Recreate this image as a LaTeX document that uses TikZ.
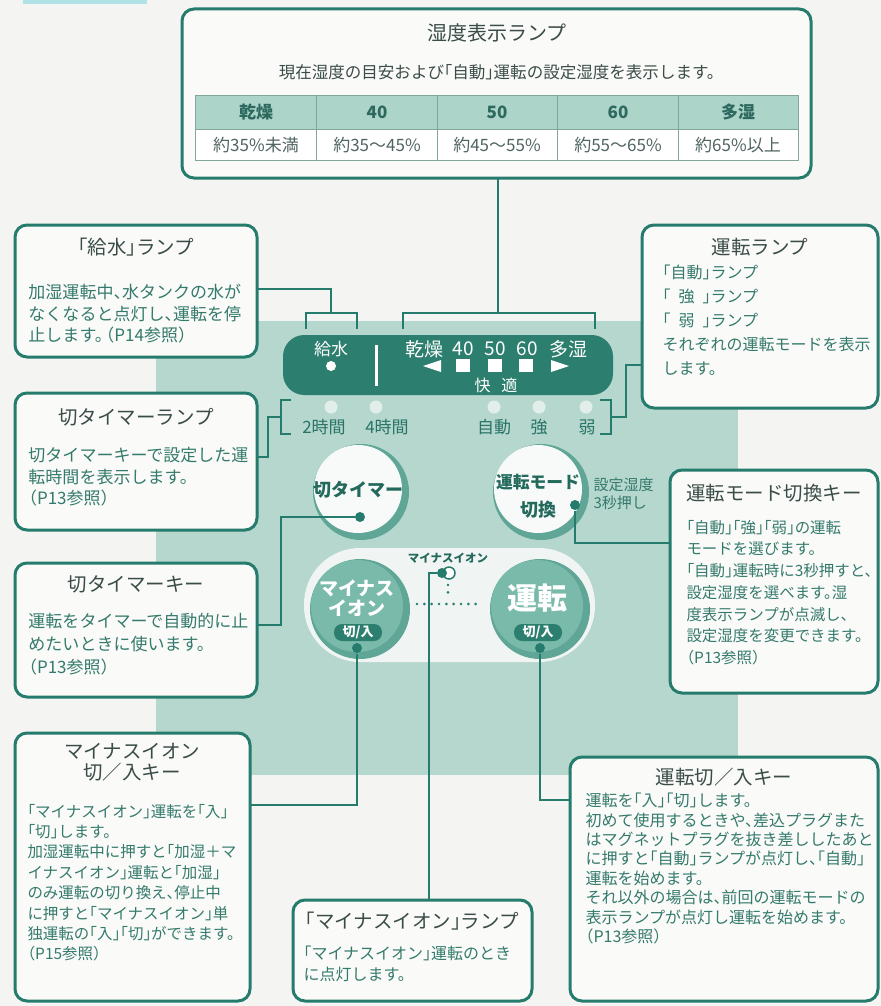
\documentclass[tikz,border=0pt]{standalone}
\usepackage{fontspec}
\setmainfont{Noto Sans CJK JP}[RawFeature=+halt]

\definecolor{bgpaper}{RGB}{244,244,242}
\definecolor{cyanbar}{RGB}{175,226,228}
\definecolor{tealline}{RGB}{38,124,108}
\definecolor{tealpanel}{RGB}{182,215,206}
\definecolor{tealbar}{RGB}{44,126,110}
\definecolor{boxfill}{RGB}{250,250,248}
\definecolor{titlegray}{RGB}{58,76,72}
\definecolor{bodyteal}{RGB}{52,122,108}
\definecolor{labelteal}{RGB}{40,116,102}
\definecolor{headfill}{RGB}{172,212,200}
\definecolor{gridline}{RGB}{130,165,158}
\definecolor{headteal}{RGB}{45,105,95}
\definecolor{datagray}{RGB}{80,100,98}
\definecolor{lampgray}{RGB}{226,238,233}
\definecolor{rimteal}{RGB}{96,166,150}
\definecolor{keyteal}{RGB}{122,186,171}
\definecolor{keywhite}{RGB}{248,250,249}
\definecolor{keytext}{RGB}{35,105,92}
\definecolor{capsule}{RGB}{240,245,243}

\tikzset{every picture/.style={line width=0.75pt}}
\tikzset{
  callout/.style={draw=tealline, line width=2.25pt, rounded corners=9pt, fill=boxfill},
  conn/.style={draw=tealline, line width=1.9pt},
  bracket/.style={draw=tealline, line width=1.9pt},
  keydot/.style={circle, fill=tealline, inner sep=0pt, minimum size=7.5pt},
  boxtitle/.style={inner sep=0pt, text=titlegray, font=\fontsize{14.6}{16}\selectfont},
  boxbody/.style={anchor=north west, inner sep=0pt, align=left, text=bodyteal},
  barlabel/.style={inner sep=0pt, text=white, font=\fontsize{14.25}{17}\selectfont},
  panellabel/.style={inner sep=0pt, text=labelteal, font=\fontsize{12.75}{15}\selectfont},
  keylabel/.style={inner sep=0pt, align=center, font=\bfseries\fontsize{13.5}{21}\selectfont},
  headcell/.style={inner sep=0pt, text=headteal, font=\bfseries\fontsize{12.75}{15}\selectfont},
  datacell/.style={inner sep=0pt, text=datagray, font=\fontsize{12.75}{15}\selectfont},
}

\begin{document}
\begin{tikzpicture}[x=0.75pt,y=0.75pt,yscale=-1,xscale=1]
\useasboundingbox (0,0) rectangle (881,1006);

%Shape: Paper
\fill[bgpaper] (0,0) rectangle (881,1006);
\fill[cyanbar] (23,0) rectangle (147,4);
%Shape: Control panel
\fill[tealpanel] (156,321) rectangle (738,775);

%Shape: Display bar
\draw[draw=none, fill=tealbar, rounded corners=16pt] (283,335) rectangle (613,395);
\draw (331,349) node (kyusuilbl) [barlabel, font=\fontsize{12.75}{15}\selectfont] {給水};
\fill[white] (331,366) circle (5);
\draw[white, line width=2.25pt] (376,345) -- (376,386);
\draw (424,349) node (kansolbl) [barlabel] {乾燥};
\draw (463,349) node (h40lbl) [barlabel] {40};
\draw (495,349) node (h50lbl) [barlabel] {50};
\draw (527,349) node (h60lbl) [barlabel] {60};
\draw (568,349) node (tashitsulbl) [barlabel] {多湿};
\fill[white] (441,360) -- (423,366) -- (441,372) -- cycle;
\fill[white] (456,359) rectangle (470,372);
\fill[white] (488,359) rectangle (502,372);
\fill[white] (519,359) rectangle (533,372);
\fill[white] (551,360) -- (569,366) -- (551,372) -- cycle;
\draw (496,385) node (kaitekilbl) [barlabel, font=\fontsize{12}{14}\selectfont] {快\hspace{8pt}適};

%Lamps under the bar
\foreach \lx in {331,376,494,539,586} \fill[lampgray] (\lx,407) circle (6.5);
\draw (324,427) node (h2lbl) [panellabel] {2時間};
\draw (387,427) node (h4lbl) [panellabel] {4時間};
\draw (494,427) node (autolbl) [panellabel] {自動};
\draw (539,427) node (stronglbl) [panellabel] {強};
\draw (587,427) node (weaklbl) [panellabel] {弱};

%Brackets
\draw[bracket] (403,329) -- (403,313) -- (595,313) -- (595,329);
\draw[bracket] (306,329) -- (306,313) -- (357,313) -- (357,329);
\draw[bracket] (291,400) -- (281,400) -- (281,434) -- (291,434);
\draw[bracket] (600,400) -- (611,400) -- (611,434) -- (600,434);

%Shape: Timer key
\fill[rimteal] (361,492) circle (48);
\fill[keywhite] (358,489) circle (44);
\draw (358,490) node (timerlbl) [keylabel, text=keytext] {切タイマー};
%Shape: Mode key
\fill[rimteal] (541,492) circle (48);
\fill[keywhite] (538,489) circle (44);
\draw (538,496) node (modelbl) [keylabel, text=keytext, font=\bfseries\fontsize{12.6}{21}\selectfont] {運転モード\\{\fontsize{13.5}{21}\selectfont 切換}};
\draw (593,477) node (holdlbl) [boxbody, font=\fontsize{11.25}{13.9}\selectfont] {設定湿度\\3秒押し};

%Shape: Capsule
\fill[capsule, rounded corners=42pt] (304,548) rectangle (595,662);
%Shape: Ion key
\fill[rimteal] (360,609) circle (50);
\fill[keyteal] (357,606) circle (46);
\draw (357,598) node (ionlbl) [keylabel, text=white, font=\bfseries\fontsize{14.25}{15}\selectfont] {マイナス\\イオン};
\fill[tealbar, rounded corners=6pt] (334,624) rectangle (382,641);
\draw (358,632.5) node (ionpill) [inner sep=0pt, text=white, font=\bfseries\fontsize{9.75}{11}\selectfont] {切/入};
%Shape: Run key
\fill[rimteal] (540,609) circle (50);
\fill[keyteal] (537,606) circle (46);
\draw (537,598) node (runlbl) [inner sep=0pt, text=white, font=\bfseries\fontsize{22.5}{24}\selectfont] {運転};
\fill[tealbar, rounded corners=6pt] (514,624) rectangle (562,641);
\draw (538,632.5) node (runpill) [inner sep=0pt, text=white, font=\bfseries\fontsize{9.75}{11}\selectfont] {切/入};

%Ion lamp and dotted link
\draw (448,558) node (ionlamplbl) [inner sep=0pt, text=keytext, font=\bfseries\fontsize{8.6}{10}\selectfont] {マイナスイオン};
\draw[tealline, fill=white, line width=1.1pt] (449,573) circle (6);
\draw[tealline, line width=2.2pt, line cap=round, dash pattern=on 0pt off 5.5pt] (417,604) -- (481,604);
\draw[tealline, line width=2.2pt, line cap=round, dash pattern=on 0pt off 5.5pt] (448,585) -- (448,598);

%Key dots
\node (timerdot) [keydot] at (360,517) {};
\node (modedot) [keydot] at (575,505) {};
\node (iondot) [keydot] at (442,573) {};
\node (ionkeydot) [keydot] at (357,648) {};
\node (runkeydot) [keydot] at (540,648) {};

%Connector ends
\coordinate (humbot) at (498,178);
\coordinate (humbr) at (498,313);
\coordinate (kyusuiR) at (257,289);
\coordinate (kyusuibr) at (331,313);
\coordinate (tlampR) at (257,457);
\coordinate (tlampbend) at (268,457);
\coordinate (tlampbr) at (281,417);
\coordinate (modebr) at (611,417);
\coordinate (modebend) at (626,417);
\coordinate (runlampL) at (642,365);
\coordinate (timerbend) at (281,625);
\coordinate (timerkeyR) at (257,625);
\coordinate (modekeyL) at (670,543);
\coordinate (ionlampT) at (429,900);
\coordinate (ionkeyR) at (250,805);
\coordinate (runkeyL) at (570,800);

%Connectors
\draw[conn] (humbot) -- (humbr);
\draw[conn] (kyusuiR) -| (kyusuibr);
\draw[conn] (tlampR) -- (tlampbend) |- (tlampbr);
\draw[conn] (modebr) -- (modebend) |- (runlampL);
\draw[conn] (timerdot) -| (timerbend) -- (timerkeyR);
\draw[conn] (modedot) |- (modekeyL);
\draw[conn] (iondot) -| (ionlampT);
\draw[conn] (ionkeydot) |- (ionkeyR);
\draw[conn] (runkeydot) |- (runkeyL);

%Shape: Humidity lamp box
\draw[callout] (182,9) rectangle (811,178);
\draw (497,33) node (humtitle) [boxtitle, font=\fontsize{15}{17}\selectfont] {湿度表示ランプ};
\draw (497,72) node (humsub) [inner sep=0pt, text=titlegray, font=\fontsize{12.4}{14}\selectfont] {現在湿度の目安および「自動」運転の設定湿度を表示します。};
\draw[fill=headfill, draw=gridline] (195,95) rectangle (798,129);
\draw[fill=white, draw=gridline] (195,129) rectangle (798,160);
\foreach \gx in {316.6,437.2,557.8,678.4} \draw[gridline] (\gx,95) -- (\gx,160);
\foreach \cx/\hd/\dt [count=\i] in {256/乾燥/約35\%未満, 377/40/約35〜45\%, 497/50/約45〜55\%, 618/60/約55〜65\%, 738/多湿/約65\%以上}
{
  \draw (\cx,112) node (head\i) [headcell] {\hd};
  \draw (\cx,145) node (cell\i) [datacell] {\dt};
}

%Shape: Water lamp box
\draw[callout] (15,225) rectangle (257,357);
\draw (136,247) node (kyusuititle) [boxtitle] {「給水」ランプ};
\draw (28,284) node (kyusuitext) [boxbody, font=\fontsize{12.75}{16.1}\selectfont] {加湿運転中、水タンクの水が\\なくなると点灯し、運転を停\\止します。\hspace{2pt}（P14参照）};

%Shape: Timer lamp box
\draw[callout] (15,393) rectangle (257,530);
\draw (136,417) node (tlamptitle) [boxtitle] {切タイマーランプ};
\draw (28,447) node (tlamptext) [boxbody, font=\fontsize{12.75}{16.1}\selectfont] {切タイマーキーで設定した運\\転時間を表示します。\\（P13参照）};

%Shape: Timer key box
\draw[callout] (15,563) rectangle (257,697);
\draw (136,584) node (tkeytitle) [boxtitle] {切タイマーキー};
\draw (28,613) node (tkeytext) [boxbody, font=\fontsize{12.75}{17}\selectfont] {運転をタイマーで自動的に止\\めたいときに使います。\\（P13参照）};

%Shape: Ion key box
\draw[callout] (15,733) rectangle (250,1001);
\draw (132,762.5) node (ionkeytitle) [boxtitle, align=center, font=\fontsize{14.6}{15.75}\selectfont] {マイナスイオン\\切／入キー};
\draw (27,803.5) node (ionkeytext) [boxbody, font=\fontsize{11.6}{15.3}\selectfont] {「マイナスイオン」運転を「入」\\「切」します。\\加湿運転中に押すと「加湿＋マ\\イナスイオン」運転と「加湿」\\のみ運転の切り換え、停止中\\に押すと「マイナスイオン」単\\独運転の「入」「切」ができます。\\（P15参照）};

%Shape: Run lamp box
\draw[callout] (642,225) rectangle (878,408);
\draw (760,247) node (rlamptitle) [boxtitle] {運転ランプ};
\draw (662,264.5) node (rlamptext) [boxbody, font=\fontsize{12}{18}\selectfont] {「自動」ランプ\\「\hspace{0.5em}強\hspace{0.5em}」ランプ\\「\hspace{0.5em}弱\hspace{0.5em}」ランプ\\それぞれの運転モードを表示\\します。};

%Shape: Mode key box
\draw[callout] (670,470) rectangle (878,693);
\draw (774,493) node (mkeytitle) [boxtitle] {運転モード切換キー};
\draw (686,519.5) node (mkeytext) [boxbody, font=\fontsize{11.6}{16.3}\selectfont] {「自動」「強」「弱」の運転\\モードを選びます。\\「自動」運転時に3秒押すと、\\設定湿度を選べます。湿\\度表示ランプが点滅し、\\設定湿度を変更できます。\\（P13参照）};

%Shape: Run key box
\draw[callout] (570,757) rectangle (878,1001);
\draw (724,777) node (rkeytitle) [boxtitle] {運転切／入キー};
\draw (585,792.5) node (rkeytext) [boxbody, font=\fontsize{12}{14.6}\selectfont] {運転を「入」「切」します。\\初めて使用するときや、差込プラグまた\\はマグネットプラグを抜き差ししたあと\\に押すと「自動」ランプが点灯し、「自動」\\運転を始めます。\\それ以外の場合は、前回の運転モードの\\表示ランプが点灯し運転を始めます。\\（P13参照）};

%Shape: Ion lamp box
\draw[callout] (293,900) rectangle (532,1001);
\draw (412,921) node (ilamptitle) [boxtitle] {「マイナスイオン」ランプ};
\draw (303,945.5) node (ilamptext) [boxbody, font=\fontsize{12}{15.75}\selectfont] {「マイナスイオン」運転のとき\\に点灯します。};

\end{tikzpicture}
\end{document}
